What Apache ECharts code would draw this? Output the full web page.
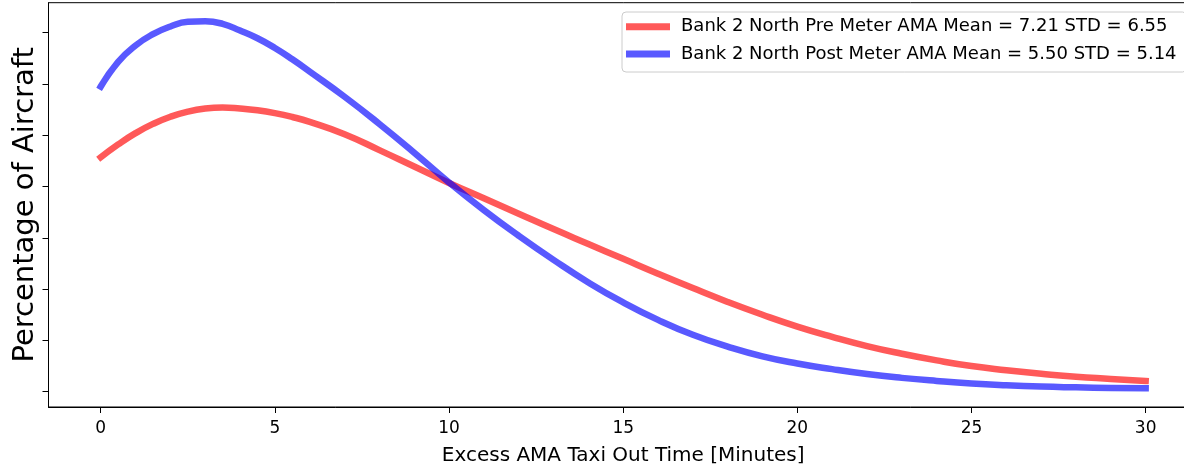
<!DOCTYPE html>
<html>
<head>
<meta charset="utf-8">
<script src="https://cdn.jsdelivr.net/npm/echarts@6/dist/echarts.min.js"></script>
<style>
  html, body { margin: 0; padding: 0; background: #fff; overflow: hidden; }
  /* the figure runs slightly past the right edge of the window */
  #chart { width: 1199px; height: 467px; }
</style>
</head>
<body>
<div id="chart"></div>
<script>
// Excess AMA taxi-out time (minutes)
const minutes = [0, 0.5, 1, 1.5, 2, 2.5, 3, 3.5, 4, 4.5, 5, 5.5, 6, 7, 8, 9, 10, 11, 12, 13, 14, 15,
                 16, 17, 18, 19, 20, 21, 22, 23, 24, 25, 26, 27, 28, 29, 30];

// Fitted distribution, percentage of aircraft
const preMeter = [4.57, 4.82, 5.04, 5.22, 5.36, 5.46, 5.52, 5.54, 5.52, 5.485, 5.43, 5.355, 5.26, 5.02, 4.71, 4.39, 4.07,
                  3.77, 3.47, 3.17, 2.88, 2.59, 2.30, 2.02, 1.75, 1.50, 1.27, 1.07, 0.89, 0.74, 0.61, 0.50,
                  0.42, 0.35, 0.29, 0.25, 0.21];
const postMeter = [5.95, 6.43, 6.75, 6.97, 7.12, 7.21, 7.22, 7.17, 7.04, 6.89, 6.70, 6.48, 6.24, 5.75, 5.22, 4.66, 4.08,
                   3.54, 3.04, 2.57, 2.13, 1.74, 1.40, 1.11, 0.88, 0.69, 0.55, 0.44, 0.345, 0.27, 0.21, 0.16,
                   0.125, 0.10, 0.085, 0.073, 0.066];

const seriesNames = [
  'Bank 2 North Pre Meter AMA Mean = 7.21 STD = 6.55',
  'Bank 2 North Post Meter AMA Mean = 5.50 STD = 5.14'
];
const xTicks = [0, 5, 10, 15, 20, 25, 30];
const yTicks = [0, 1, 2, 3, 4, 5, 6, 7];

const RED = 'rgba(255,0,0,0.65)';
const BLUE = 'rgba(0,0,255,0.65)';
const FONT = 'DejaVu Sans';

const pairs = (xs, ys) => xs.map((x, i) => [x, ys[i]]);

const chart = echarts.init(document.getElementById('chart'), null, { renderer: 'canvas' });

const lineSeries = (name, values, color) => ({
  name,
  type: 'line',
  data: pairs(minutes, values),
  smooth: 0.5,
  showSymbol: false,
  color,
  lineStyle: { color, width: 6.5, cap: 'square', join: 'round' },
  clip: true
});

chart.setOption({
  animation: false,
  backgroundColor: '#ffffff',
  textStyle: { fontFamily: FONT },
  grid: {
    left: 48.5, top: 2.7, right: 1.1, bottom: 60,
    outerBoundsMode: 'none',
    show: true, borderColor: '#000', borderWidth: 1, backgroundColor: 'transparent'
  },
  legend: {
    orient: 'vertical',
    left: 622, top: 12,
    padding: [4.7, 10, 8, 4],
    itemGap: 7.3,
    itemWidth: 44,
    itemHeight: 7,
    icon: 'rect',
    backgroundColor: 'rgba(255,255,255,0.8)',
    borderColor: '#cccccc',
    borderWidth: 1,
    borderRadius: 4,
    textStyle: {
      fontFamily: FONT, fontSize: 18, color: '#000',
      lineHeight: 20, padding: [0, 0, 0, 6]
    },
    data: seriesNames
  },
  xAxis: {
    type: 'value',
    min: -1.5, max: 31.5,
    name: 'Excess AMA Taxi Out Time [Minutes]',
    nameLocation: 'middle',
    nameGap: 39,
    nameTextStyle: { fontFamily: FONT, fontSize: 20, color: '#000' },
    axisLine: { show: true, onZero: false, lineStyle: { color: '#000', width: 1 } },
    axisTick: { show: true, inside: false, length: 6, lineStyle: { color: '#000', width: 1 }, customValues: xTicks },
    axisLabel: { show: true, margin: 13, fontFamily: FONT, fontSize: 17, color: '#000', customValues: xTicks },
    splitLine: { show: false }
  },
  yAxis: {
    type: 'value',
    min: -0.298, max: 7.583,
    name: 'Percentage of Aircraft',
    nameLocation: 'middle',
    nameGap: 9,
    nameTextStyle: { fontFamily: FONT, fontSize: 29, color: '#000' },
    axisLine: { show: true, onZero: false, lineStyle: { color: '#000', width: 1 } },
    axisTick: { show: true, inside: false, length: 6, lineStyle: { color: '#000', width: 1 }, customValues: yTicks },
    axisLabel: { show: false },
    splitLine: { show: false }
  },
  series: [
    lineSeries(seriesNames[0], preMeter, RED),
    lineSeries(seriesNames[1], postMeter, BLUE)
  ]
});
</script>
</body>
</html>
